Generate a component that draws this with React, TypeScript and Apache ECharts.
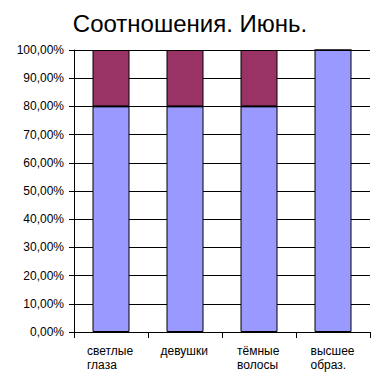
import React, { useEffect, useRef } from "react";
import * as echarts from "echarts";

const title = "Соотношения. Июнь.";
const categories = ["светлые\nглаза", "девушки", "тёмные\nволосы", "высшее\nобраз."];
const lowerValues = [80, 80, 80, 100];
const upperValues = [20, 20, 20, 0];
const yMin = 0;
const yMax = 100;
const yInterval = 10;

const FONT = "'Liberation Sans', Arial, sans-serif";

function measure(text: string, size: number): number {
  const c = document.createElement("canvas");
  const ctx = c.getContext("2d");
  if (!ctx) return text.length * size * 0.55;
  ctx.font = `${size}px 'Liberation Sans', Arial, sans-serif`;
  return ctx.measureText(text).width;
}

export default function App() {
  const ref = useRef<HTMLDivElement>(null);
  useEffect(() => {
    if (!ref.current) return;
    const chart = echarts.init(ref.current, undefined, { renderer: "svg" });
    const rich: Record<string, any> = {};
    categories.forEach((c, i) => {
      const w = Math.max(...c.split("\n").map((l) => measure(l, 12)));
      rich["c" + i] = {
        width: Math.ceil(w) + 1,
        align: "left",
        fontSize: 12,
        fontFamily: FONT,
        color: "#000",
        lineHeight: 14,
      };
    });
    chart.setOption({
      animation: false,
      backgroundColor: "#fff",
      title: {
        text: title,
        left: "center",
        top: 6,
        textStyle: { fontFamily: FONT, fontSize: 24, fontWeight: "normal", color: "#000" },
      },
      grid: { left: 74, right: 10, top: 50, bottom: 48, containLabel: false },
      xAxis: {
        type: "category",
        data: categories,
        boundaryGap: true,
        axisLine: { show: true, lineStyle: { color: "#000", width: 1 } },
        axisTick: { show: true, length: 6, lineStyle: { color: "#000" } },
        axisLabel: {
          margin: 12,
          interval: 0,
          formatter: (v: string, i: number) =>
            v.split("\n").map((l) => `{c${i}|${l}}`).join("\n"),
          rich,
        },
        splitLine: { show: false },
      },
      yAxis: {
        type: "value",
        min: yMin,
        max: yMax,
        interval: yInterval,
        axisLine: { show: true, lineStyle: { color: "#000", width: 1 } },
        axisTick: { show: true, length: 5, lineStyle: { color: "#000" } },
        axisLabel: {
          margin: 10,
          fontFamily: FONT,
          fontSize: 12,
          color: "#000",
          formatter: (v: number) => v.toFixed(2).replace(".", ",") + "%",
        },
        splitLine: { show: true, lineStyle: { color: "#000", width: 1 } },
      },
      series: [
        {
          type: "bar",
          stack: "total",
          data: lowerValues,
          barWidth: "50%",
          itemStyle: { color: "#9999FF", borderColor: "#000", borderWidth: 1 },
        },
        {
          type: "bar",
          stack: "total",
          data: upperValues,
          barWidth: "50%",
          itemStyle: { color: "#993366", borderColor: "#000", borderWidth: 1 },
        },
      ],
    });
    return () => chart.dispose();
  }, []);
  return (
    <div
      ref={ref}
      style={{ position: "fixed", left: 0, top: 0, width: 380, height: 380, background: "#fff" }}
    />
  );
}
